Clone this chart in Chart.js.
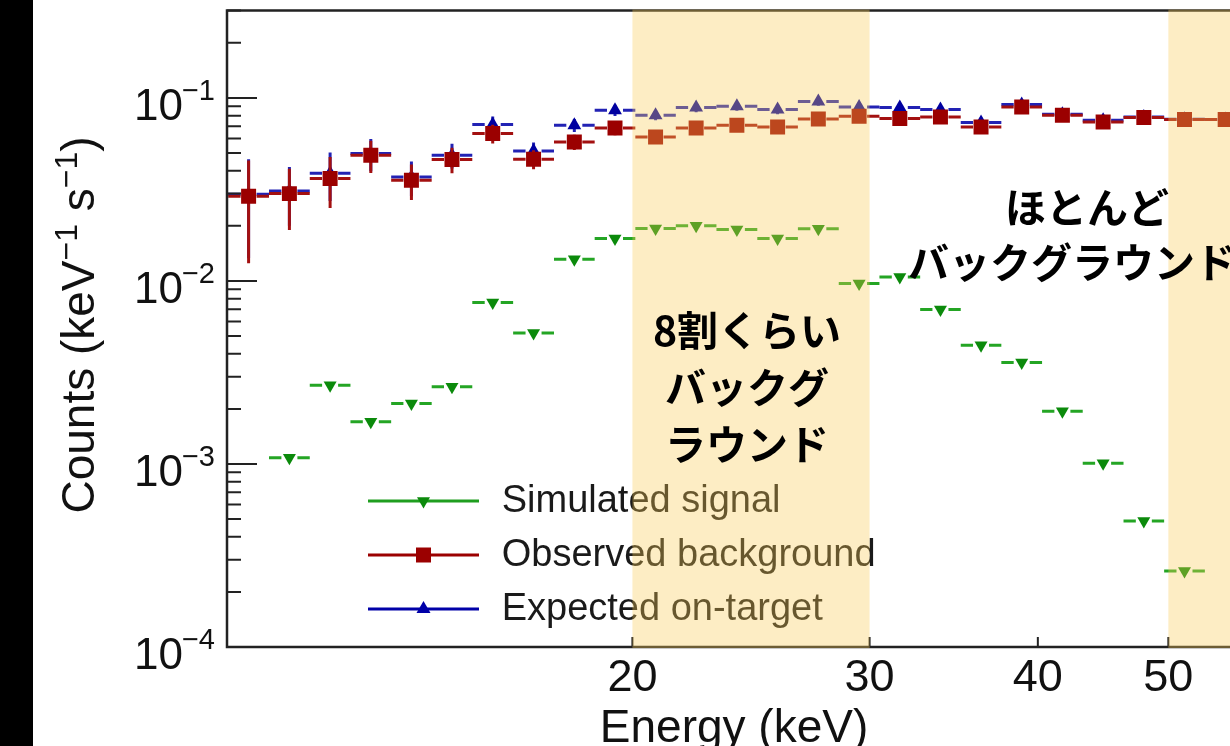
<!DOCTYPE html>
<html>
<head>
<meta charset="utf-8">
<script src="https://cdn.jsdelivr.net/npm/chart.js@4.4.1/dist/chart.umd.min.js"></script>
<style>
  html, body { margin: 0; padding: 0; background: #fff; overflow: hidden; }
  #wrap { position: relative; width: 1300px; height: 746px; }
</style>
</head>
<body>
<div id="wrap"><canvas id="c" width="1300" height="746"></canvas></div>
<script>
// bin edges in keV (25 log-spaced bins)
const binEdges = [10.02, 10.745, 11.52, 12.35, 13.24, 14.19, 15.21, 16.31, 17.49, 18.75, 20.10,
  21.54, 23.09, 24.76, 26.54, 28.46, 30.51, 32.71, 35.06, 37.58, 40.29, 43.19, 46.31, 49.64, 53.22, 57.05];

const signal = [null, 0.00108, 0.00269, 0.0017, 0.00214, 0.00264, 0.00762, 0.0052, 0.01314, 0.01705,
  0.01933, 0.0200, 0.0191, 0.01705, 0.0193, 0.00968, 0.01051, 0.00698, 0.00445, 0.00359,
  0.00194, 0.00101, 0.000488, 0.00026, null];

const background = [0.0290, 0.0300, 0.0363, 0.0486, 0.0355, 0.0461, 0.0639, 0.0463, 0.0575, 0.0686,
  0.0612, 0.0686, 0.0709, 0.0694, 0.0767, 0.0794, 0.0772, 0.0787, 0.0694, 0.0893,
  0.0804, 0.0739, 0.0781, 0.0762, 0.0762];
const bgErr = [0.0165, 0.011, 0.0113, 0.0097, 0.0078, 0.0073, 0.0075, 0.0055, 0.0055, 0.006,
  0.0045, 0.0048, 0.005, 0.0045, 0.005, 0.0045, 0.0045, 0.0045, 0.0045, 0.0055,
  0.0045, 0.004, 0.0045, 0.0045, 0.0045];

const onTarget = [0.0298, 0.0310, 0.0388, 0.0497, 0.0370, 0.0486, 0.0716, 0.0513, 0.0709, 0.0857,
  0.0804, 0.0886, 0.0901, 0.0864, 0.0957, 0.0893, 0.0886, 0.0864, 0.0734, 0.0920,
  0.0814, 0.0755, 0.0787, 0.0765, 0.0763];
const onErr = [0.0165, 0.011, 0.0115, 0.01, 0.008, 0.0075, 0.0075, 0.0058, 0.0058, 0.006,
  0.005, 0.005, 0.005, 0.005, 0.005, 0.0048, 0.0048, 0.0048, 0.0045, 0.0055,
  0.0045, 0.004, 0.0045, 0.0045, 0.0045];

const xTicks = [20, 30, 40, 50];
const yDecades = [1e-4, 1e-3, 1e-2, 1e-1];
const yExponents = ["\u22124", "\u22123", "\u22122", "\u22121"];
const shadeRanges = [[20, 30], [50, 60]];

const legendItems = [
  { label: "Simulated signal", color: "#1f9e1f", marker: "down" },
  { label: "Observed background", color: "#9b0000", marker: "rect" },
  { label: "Expected on-target", color: "#0000a8", marker: "up" }
];

const FONT = "'Liberation Sans', Arial, Helvetica, sans-serif";
const JP = "'Noto Sans CJK JP', 'Noto Sans CJK SC', sans-serif";

const centers = binEdges.slice(0, -1).map((lo, i) => Math.sqrt(lo * binEdges[i + 1]));
const toPoints = vals => vals.map((v, i) => ({ x: centers[i], y: v }));

function marker(ctx, kind, x, y, color) {
  ctx.fillStyle = color;
  ctx.beginPath();
  if (kind === "rect") {
    ctx.rect(x - 7.5, y - 7.5, 15, 15);
  } else if (kind === "up") {
    ctx.moveTo(x, y - 8); ctx.lineTo(x + 7, y + 4); ctx.lineTo(x - 7, y + 4);
  } else {
    ctx.moveTo(x, y + 7.5); ctx.lineTo(x + 6.5, y - 3.7); ctx.lineTo(x - 6.5, y - 3.7);
  }
  ctx.closePath();
  ctx.fill();
}

const errorBars = {
  id: "errorBars",
  beforeDatasetDraw(chart, args) {
    const ds = chart.data.datasets[args.index];
    const xs = chart.scales.x, ys = chart.scales.y, ctx = chart.ctx, a = chart.chartArea;
    ctx.save();
    ctx.beginPath();
    ctx.rect(a.left, a.top, a.right - a.left, a.bottom - a.top);
    ctx.clip();
    ctx.strokeStyle = ds.barColor;
    ctx.lineWidth = 3;
    ds.data.forEach((p, i) => {
      if (p.y == null) return;
      const cx = xs.getPixelForValue(p.x), cy = ys.getPixelForValue(p.y);
      const xl = xs.getPixelForValue(binEdges[i]), xr = xs.getPixelForValue(binEdges[i + 1]);
      ctx.beginPath();
      ctx.moveTo(xl, cy); ctx.lineTo(cx - ds.gap, cy);
      ctx.moveTo(cx + ds.gap, cy); ctx.lineTo(xr, cy);
      if (ds.err) {
        const e = ds.err[i];
        ctx.moveTo(cx, ys.getPixelForValue(p.y + e));
        ctx.lineTo(cx, ys.getPixelForValue(Math.max(p.y - e, 1e-5)));
      }
      ctx.stroke();
    });
    ctx.restore();
  }
};

const decor = {
  id: "decor",
  beforeDraw(chart) {
    const ctx = chart.ctx;
    ctx.save();
    ctx.fillStyle = "#fff";
    ctx.fillRect(0, 0, chart.width, chart.height);
    ctx.fillStyle = "#000";
    ctx.fillRect(0, 0, 33, chart.height);
    ctx.restore();
  },
  afterDraw(chart) {
    const ctx = chart.ctx, a = chart.chartArea;
    const xs = chart.scales.x, ys = chart.scales.y;
    ctx.save();

    // frame
    ctx.strokeStyle = "#222";
    ctx.lineWidth = 2.5;
    ctx.beginPath();
    ctx.moveTo(a.right + 5, a.top); ctx.lineTo(a.left, a.top);
    ctx.lineTo(a.left, a.bottom); ctx.lineTo(a.right + 5, a.bottom);
    ctx.stroke();

    // y ticks (major + minor)
    ctx.lineWidth = 2;
    ctx.beginPath();
    yDecades.forEach(d => {
      for (let m = 1; m <= 9; m++) {
        const v = m * d;
        if (v > ys.max * 1.001) break;
        const py = ys.getPixelForValue(v);
        ctx.moveTo(a.left, py);
        ctx.lineTo(a.left + (m === 1 ? 30 : 14), py);
      }
    });
    xTicks.forEach(t => {
      const px = xs.getPixelForValue(t);
      ctx.moveTo(px, a.bottom);
      ctx.lineTo(px, a.bottom - 10);
    });
    ctx.stroke();

    // legend
    legendItems.forEach((it, i) => {
      const ly = 501 + i * 54;
      ctx.strokeStyle = it.color;
      ctx.lineWidth = 3;
      ctx.beginPath();
      ctx.moveTo(368, ly); ctx.lineTo(479, ly);
      ctx.stroke();
      marker(ctx, it.marker, 423.5, ly, it.marker === "down" ? "#0b8a0b" : it.color);
      ctx.fillStyle = "#1a1a1a";
      ctx.font = "38px " + FONT;
      ctx.textAlign = "left";
      ctx.textBaseline = "alphabetic";
      ctx.fillText(it.label, 501.7, ly + 11);
    });

    // shaded energy windows, laid over everything inside the frame
    ctx.fillStyle = "rgba(250, 202, 85, 0.35)";
    shadeRanges.forEach(([lo, hi]) => {
      const x0 = xs.getPixelForValue(lo), x1 = xs.getPixelForValue(hi);
      ctx.fillRect(x0, a.top - 1, x1 - x0, a.bottom - a.top + 2);
    });

    // x tick labels
    ctx.fillStyle = "#111";
    ctx.font = "45px " + FONT;
    ctx.textAlign = "center";
    ctx.textBaseline = "alphabetic";
    xTicks.forEach(t => ctx.fillText(String(t), xs.getPixelForValue(t), 691));

    // y tick labels 10^n
    yDecades.forEach((d, i) => {
      const py = ys.getPixelForValue(d);
      ctx.font = "29px " + FONT;
      const w = ctx.measureText(yExponents[i]).width;
      const sx = 215 - w;
      ctx.textAlign = "left";
      ctx.fillText(yExponents[i], sx, py + 2);
      ctx.font = "44px " + FONT;
      ctx.textAlign = "right";
      ctx.fillText("10", sx + 1, py + 22);
    });

    // x title
    ctx.font = "46px " + FONT;
    ctx.textAlign = "center";
    ctx.fillText("Energy (keV)", 734, 742);

    // y title with superscripts
    const parts = [["Counts (keV", 0], ["\u22121", 1], [" s", 0], ["\u22121", 1], [")", 0]];
    const fontOf = sup => (sup ? "32px " : "46px ") + FONT;
    let total = 0;
    parts.forEach(([t, s]) => { ctx.font = fontOf(s); total += ctx.measureText(t).width; });
    ctx.translate(94, 325);
    ctx.rotate(-Math.PI / 2);
    ctx.textAlign = "left";
    let px = -total / 2;
    parts.forEach(([t, s]) => {
      ctx.font = fontOf(s);
      ctx.fillText(t, px, s ? -17 : 0);
      px += ctx.measureText(t).width;
    });
    ctx.setTransform(1, 0, 0, 1, 0, 0);

    // annotations
    ctx.fillStyle = "#000";
    ctx.font = "bold 41px " + JP;
    ctx.textBaseline = "middle";
    ctx.textAlign = "center";
    ctx.fillText("8割くらい", 747, 330);
    ctx.fillText("バックグ", 747, 387);
    ctx.fillText("ラウンド", 747, 444);
    ctx.textAlign = "left";
    ctx.fillText("ほとんど", 1005, 207);
    ctx.fillText("バックグラウンド", 908, 262);

    ctx.restore();
  }
};

new Chart(document.getElementById("c"), {
  type: "scatter",
  data: {
    datasets: [
      {
        label: "Observed background",
        data: toPoints(background),
        err: bgErr,
        barColor: "#a31010",
        gap: 8,
        pointStyle: "rect",
        pointRadius: 10.6,
        pointBackgroundColor: "#9b0000",
        pointBorderWidth: 0
      },
      {
        label: "Expected on-target",
        data: toPoints(onTarget),
        err: onErr,
        barColor: "#2222b4",
        gap: 8,
        pointStyle: "triangle",
        pointRadius: 8,
        pointBackgroundColor: "#0000a0",
        pointBorderWidth: 0
      },
      {
        label: "Simulated signal",
        data: toPoints(signal),
        barColor: "#24a524",
        gap: 8,
        pointStyle: "triangle",
        rotation: 180,
        pointRadius: 7.5,
        pointBackgroundColor: "#0b8a0b",
        pointBorderWidth: 0
      }
    ]
  },
  options: {
    responsive: false,
    animation: false,
    events: [],
    layout: { padding: { left: 227, right: 25, top: 9, bottom: 99 } },
    plugins: { legend: { display: false }, tooltip: { enabled: false } },
    scales: {
      x: { type: "logarithmic", min: 10, max: 60, display: false },
      y: { type: "logarithmic", min: 1e-4, max: 0.3, display: false }
    }
  },
  plugins: [errorBars, decor]
});
</script>
</body>
</html>
